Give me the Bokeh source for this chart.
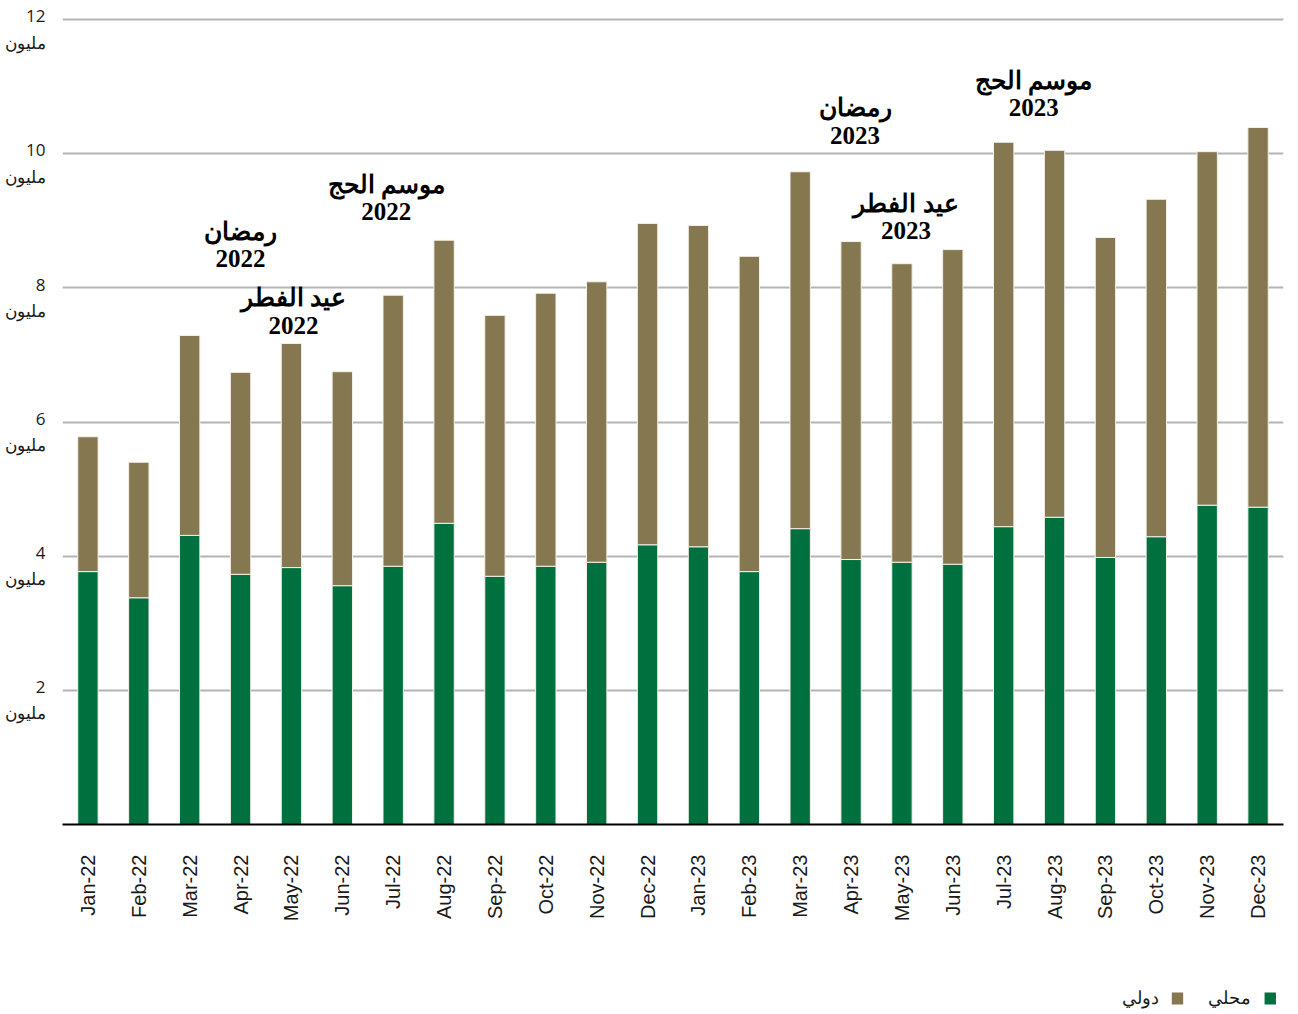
import math
from bokeh.plotting import figure
from bokeh.models import ColumnDataSource, FactorRange, Range1d, FixedTicker, LabelSet, LinearAxis
from bokeh.layouts import column
from bokeh.embed import file_html
from bokeh.resources import INLINE

# ---------------- data ----------------
months = ["Jan-22", "Feb-22", "Mar-22", "Apr-22", "May-22", "Jun-22", "Jul-22", "Aug-22",
          "Sep-22", "Oct-22", "Nov-22", "Dec-22", "Jan-23", "Feb-23", "Mar-23", "Apr-23",
          "May-23", "Jun-23", "Jul-23", "Aug-23", "Sep-23", "Oct-23", "Nov-23", "Dec-23"]
local = [3.77, 3.38, 4.31, 3.73, 3.83, 3.56, 3.85, 4.49, 3.70, 3.85, 3.91, 4.17,
         4.14, 3.77, 4.41, 3.95, 3.91, 3.88, 4.44, 4.58, 3.98, 4.29, 4.76, 4.73]
international = [2.01, 2.02, 2.98, 3.01, 3.34, 3.19, 4.04, 4.22, 3.89, 4.07, 4.18, 4.79,
                 4.79, 4.70, 5.32, 4.74, 4.45, 4.69, 5.73, 5.47, 4.77, 5.03, 5.27, 5.66]
series_names = ["محلي", "دولي"]
y_ticks = [2, 4, 6, 8, 10, 12]
y_unit = "مليون"

events_line1 = ["رمضان", "عيد الفطر", "موسم الحج", "رمضان", "عيد الفطر", "موسم الحج"]
events_line2 = ["2022", "2022", "2022", "2023", "2023", "2023"]
events_month = ["Apr-22", "May-22", "Jul-22", "Apr-23", "May-23", "Jul-23"]
# layout of the event captions (pixel nudges and vertical placement in axis units)
events_dx = [0, 2, -7, 4, 4, 30]
events_y1 = [8.84, 7.86, 9.54, 10.69, 9.26, 11.09]
events_y2 = [8.44, 7.44, 9.14, 10.27, 8.86, 10.69]

GREEN = "#00703F"
BROWN = "#857750"
GRID = "#b4b4b4"
TXT = "#1a1a1a"

Y_MAX = 12.03
LABEL_SHIFT = 0.14  # tick-label blocks sit a little below their gridline

# ---------------- main chart ----------------
src = ColumnDataSource(dict(month=months, local=local, international=international))

p = figure(width=1290, height=960, x_range=FactorRange(*months), y_range=Range1d(0, Y_MAX),
           output_backend="svg", toolbar_location=None,
           min_border_left=62, min_border_right=7, min_border_top=17, min_border_bottom=136)
p.outline_line_color = None
p.background_fill_color = "white"
p.border_fill_color = "white"

p.vbar_stack(["local", "international"], x="month", width=0.4, source=src,
             fill_color=[GREEN, BROWN], line_color="#f4f1ea", line_width=1)

p.xgrid.visible = False
p.ygrid.ticker = FixedTicker(ticks=y_ticks)
p.ygrid.grid_line_color = GRID
p.ygrid.grid_line_width = 2
p.yaxis.visible = False

# label axis on a slightly shifted range, so each two-line label sits just under its gridline
p.extra_y_ranges = {"lab": Range1d(LABEL_SHIFT, Y_MAX + LABEL_SHIFT)}
ya = LinearAxis(y_range_name="lab", ticker=FixedTicker(ticks=y_ticks))
ya.axis_line_color = None
ya.major_tick_line_color = None
ya.minor_tick_line_color = None
ya.major_tick_out = 0
ya.major_tick_in = 0
ya.major_label_standoff = 17
ya.major_label_overrides = {t: str(t) + "\n" + y_unit for t in y_ticks}
ya.major_label_text_font = "Open Sans"
ya.major_label_text_font_size = "17px"
ya.major_label_text_color = TXT
ya.major_label_text_line_height = 1.15
p.add_layout(ya, "left")

xa = p.xaxis[0]
xa.axis_line_color = "black"
xa.axis_line_width = 2
xa.major_tick_line_color = None
xa.major_tick_out = 0
xa.major_tick_in = 0
xa.major_label_orientation = math.pi / 2
xa.major_label_standoff = 30
xa.major_label_text_font = "Liberation Sans"
xa.major_label_text_font_size = "20px"
xa.major_label_text_color = TXT

# event captions
ev_src = ColumnDataSource(dict(x=events_month, dx=events_dx, y1=events_y1, y2=events_y2,
                               t1=events_line1, t2=events_line2))
p.add_layout(LabelSet(x="x", y="y1", text="t1", x_offset="dx", source=ev_src,
                      text_align="center", text_baseline="middle",
                      text_font="Liberation Sans", text_font_style="bold",
                      text_font_size="25px", text_color="black"))
p.add_layout(LabelSet(x="x", y="y2", text="t2", x_offset="dx", source=ev_src,
                      text_align="center", text_baseline="middle",
                      text_font="Liberation Sans", text_font_style="bold",
                      text_font_size="25px", text_color="black"))

# ---------------- legend (right-to-left) ----------------
leg = figure(width=1290, height=52, x_range=Range1d(0, 1290), y_range=Range1d(1012, 960),
             output_backend="svg", toolbar_location=None, min_border=0)
leg.axis.visible = False
leg.grid.visible = False
leg.outline_line_color = None
leg_colors = [GREEN, BROWN]
sq_x = [1276, 1178]
txt_x = [1256, 1158]
leg.rect(x=sq_x, y=[998, 998], width=12, height=12, fill_color=leg_colors, line_color=None)
leg.text(x=txt_x, y=[997, 997], text=series_names, text_align="right", text_baseline="middle",
         text_font_size="18px", text_color=TXT)

layout = column(p, leg, spacing=0)
open("out.html", "w").write(file_html(layout, INLINE))
